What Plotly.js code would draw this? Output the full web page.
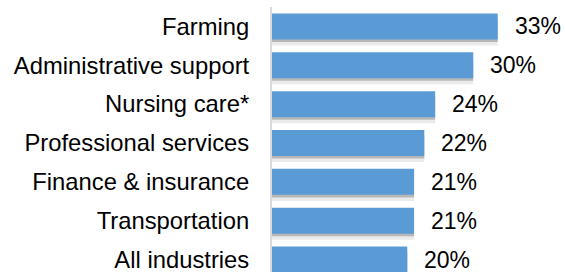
<!DOCTYPE html>
<html>
<head>
<meta charset="utf-8">
<script src="https://cdn.plot.ly/plotly-3.0.1.min.js"></script>
<style>
html,body{margin:0;padding:0;overflow:hidden;background:#fff;}
#chart{width:565px;height:280px;}
</style>
</head>
<body>
<div id="chart"></div>
<script>
const categories = ["Farming", "Administrative support", "Nursing care*", "Professional services", "Finance & insurance", "Transportation", "All industries"];
const values = [33.2, 29.6, 24.0, 22.4, 20.9, 20.9, 19.9];
const valueLabels = ["33%", "30%", "24%", "22%", "21%", "21%", "20%"];

const barColor = "#5B9BD5";
const font = "Liberation Sans, Arial, sans-serif";

const shadowOuter = {
  type: "bar", orientation: "h", x: values, y: categories,
  marker: {color: "rgba(0,0,0,0.08)", line: {width: 0}},
  width: 0.69, offset: -0.20, hoverinfo: "skip", showlegend: false
};
const shadowInner = {
  type: "bar", orientation: "h", x: values, y: categories,
  marker: {color: "rgba(0,0,0,0.22)", line: {width: 0}},
  width: 0.60, offset: -0.20, hoverinfo: "skip", showlegend: false
};
const bars = {
  type: "bar", orientation: "h", x: values, y: categories,
  marker: {color: barColor, line: {width: 0}},
  width: 0.67, offset: -0.335, showlegend: false
};

const annotations = categories.map((c, i) => ({
  x: values[i], y: c, xref: "x", yref: "y",
  text: valueLabels[i], showarrow: false,
  xanchor: "left", yanchor: "middle", xshift: 15,
  font: {family: font, size: 23, color: "#000"}
}));

const layout = {
  width: 565, height: 280,
  margin: {l: 272, r: 0, t: 7, b: 1, pad: 0},
  paper_bgcolor: "#fff", plot_bgcolor: "#fff",
  barmode: "overlay",
  showlegend: false,
  xaxis: {range: [0, 43.1], visible: false, fixedrange: true},
  yaxis: {
    type: "category", autorange: "reversed",
    showline: true, linecolor: "#d9d9d9", linewidth: 2,
    showgrid: false, zeroline: false, ticks: "",
    ticklabelstandoff: 16,
    tickfont: {family: font, size: 23.8, color: "#000"},
    fixedrange: true
  },
  annotations: annotations
};

Plotly.newPlot("chart", [shadowOuter, shadowInner, bars], layout, {displayModeBar: false, staticPlot: true});
</script>
</body>
</html>
